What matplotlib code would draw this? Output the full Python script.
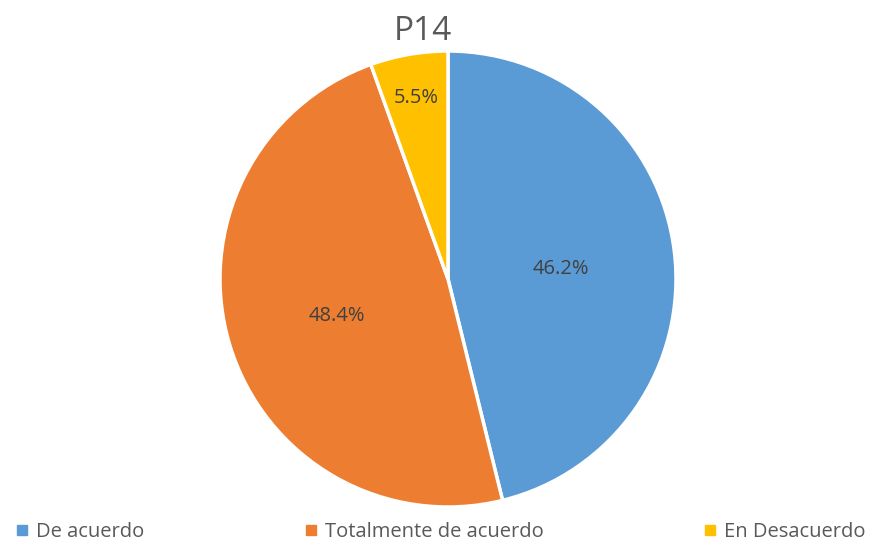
import numpy as np
import matplotlib.pyplot as plt
from matplotlib.lines import Line2D

# datos
categorias = ['De acuerdo', 'Totalmente de acuerdo', 'En Desacuerdo']
valores = [46.2, 48.4, 5.5]
colores = ['#5B9BD5', '#ED7D31', '#FFC000']
etiquetas = ['46.2%', '48.4%', '5.5%']
distancias = [0.50, 0.51, 0.82]

plt.rcParams['font.family'] = ['Open Sans', 'DejaVu Sans']

W, H = 871, 544
fig = plt.figure(figsize=(W / 100, H / 100), dpi=100)
cx, cy, r = 448, 279, 228
ax = fig.add_axes([(cx - r) / W, (H - cy - r) / H, 2 * r / W, 2 * r / H])

wedges, _ = ax.pie(valores, colors=colores, startangle=90, counterclock=False,
                   radius=1, wedgeprops=dict(edgecolor='white', linewidth=2.5))
ax.set_xlim(-1, 1)
ax.set_ylim(-1, 1)
ax.set_aspect('equal')

# etiquetas de porcentaje
for w, txt, d in zip(wedges, etiquetas, distancias):
    ang = np.deg2rad((w.theta1 + w.theta2) / 2)
    ax.text(d * np.cos(ang), d * np.sin(ang) - 0.015, txt, ha='center', va='center',
            fontsize=14.5, color='#404040')

fig.text(423 / W, 1 - 31 / H, 'P14', ha='center', va='center', fontsize=24, color='#595959')

handles = [Line2D([], [], marker='s', linestyle='', markersize=7, color=c) for c in colores]
fig.legend(handles, categorias, loc='lower left', ncol=3, mode='expand',
           bbox_to_anchor=(10 / W, -0.004, 860 / W, 0.05), frameon=False,
           fontsize=14.5, labelcolor='#595959', handletextpad=0.3, handlelength=0.8,
           borderaxespad=0.0, borderpad=0.2)

plt.savefig('out.png', dpi=100)
plt.close()
